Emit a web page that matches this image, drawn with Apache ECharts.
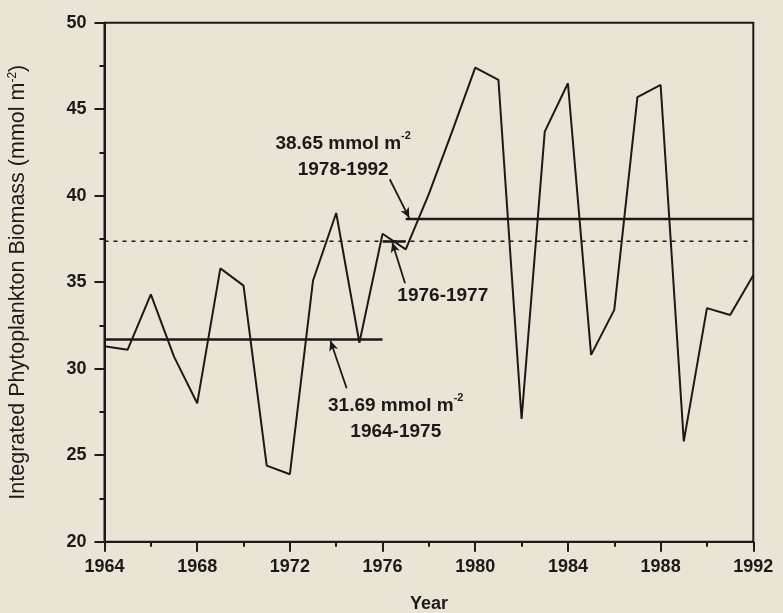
<!DOCTYPE html>
<html>
<head>
<meta charset="utf-8">
<script src="https://cdn.jsdelivr.net/npm/echarts@6/dist/echarts.min.js"></script>
<style>
  html, body { margin: 0; padding: 0; background: #e9e4d5; }
  #chart { width: 783px; height: 613px; }
</style>
</head>
<body>
<div id="chart"></div>
<script>
// Annual integrated phytoplankton biomass, 1964-1992
const years = [1964, 1965, 1966, 1967, 1968, 1969, 1970, 1971, 1972, 1973,
  1974, 1975, 1976, 1977, 1978, 1979, 1980, 1981, 1982, 1983,
  1984, 1985, 1986, 1987, 1988, 1989, 1990, 1991, 1992];
const biomass = [31.3, 31.1, 34.3, 30.7, 28.0, 35.8, 34.8, 24.4, 23.9, 35.1,
  39.0, 31.5, 37.8, 36.9, 40.1, 43.7, 47.4, 46.7, 27.1, 43.7,
  46.5, 30.8, 33.4, 45.7, 46.4, 25.8, 33.5, 33.1, 35.4];

// Period means: [start year, end year, mean]
const meanEarly = [1964, 1976, 31.69];
const meanTransition = [1976, 1977, 37.35];
const meanLate = [1977, 1992, 38.65];
const meanAll = [1964, 1992, 37.36];

// Annotation anchors [x, y] and their arrows [[x0, y0], [x1, y1]]
const noteLate = { at: [1974.3, 42.27], text: ['38.65 mmol m', '1978-1992'] };
const noteMid = { at: [1978.6, 34.19], text: ['1976-1977'] };
const noteEarly = { at: [1976.57, 27.11], text: ['31.69 mmol m', '1964-1975'] };
const arrowLate = [[1976.31, 40.95], [1977.15, 38.72]];
const arrowMid = [[1976.97, 34.94], [1976.42, 37.3]];
const arrowEarly = [[1974.45, 28.87], [1973.75, 31.62]];

const ink = '#1a1a1a';
const font = '"Liberation Sans", Arial, sans-serif';

function segment(m) { return [[m[0], m[2]], [m[1], m[2]]]; }

const richNote = {
  a: { fontFamily: font, fontSize: 19, fontWeight: 'bold', color: ink, lineHeight: 26, textBorderWidth: 0 },
  s: { fontFamily: font, fontSize: 11, fontWeight: 'bold', color: ink, verticalAlign: 'top', lineHeight: 26, textBorderWidth: 0 }
};

function noteLabel(note) {
  const lines = note.text.map((t, i) => (i === 0 && note.text.length > 1) ? '{a|' + t + '}{s|-2}' : '{a|' + t + '}');
  return {
    type: 'scatter',
    data: [note.at],
    symbolSize: 0,
    silent: true,
    z: 5,
    itemStyle: { color: ink, opacity: 1 },
    emphasis: { disabled: true },
    label: {
      show: true,
      position: 'inside',
      color: ink,
      opacity: 1,
      textBorderWidth: 0,
      formatter: lines.join('\n'),
      rich: richNote
    }
  };
}

function arrowSeries(a) {
  return {
    type: 'line',
    data: [],
    silent: true,
    markLine: {
      silent: true,
      symbol: ['none', 'arrow'],
      symbolSize: [7, 10],
      label: { show: false },
      lineStyle: { color: ink, width: 1.8, type: 'solid' },
      data: [[{ coord: a[0] }, { coord: a[1] }]]
    }
  };
}

function meanSeries(m, width, dashed) {
  return {
    type: 'line',
    data: segment(m),
    symbol: 'none',
    silent: true,
    z: 3,
    lineStyle: { color: ink, width: width, type: dashed ? [4, 5] : 'solid' }
  };
}

const chart = echarts.init(document.getElementById('chart'), null, { renderer: 'canvas' });
chart.setOption({
  backgroundColor: '#e9e4d5',
  animation: false,
  grid: {
    left: 104.5, right: 29.7, top: 22.7, bottom: 71.3,
    outerBoundsMode: 'none',
    containLabel: false,
    show: true, borderColor: ink, borderWidth: 2, backgroundColor: 'transparent'
  },
  xAxis: {
    type: 'value',
    min: 1964, max: 1992, interval: 4,
    name: 'Year',
    nameLocation: 'middle',
    nameGap: 53,
    nameTextStyle: { fontFamily: font, fontSize: 18, fontWeight: 'bold', color: ink },
    axisLine: { show: true, onZero: false, lineStyle: { color: ink, width: 2 } },
    axisTick: { show: true, inside: false, length: 10, lineStyle: { color: ink, width: 2 } },
    minorTick: { show: true, splitNumber: 2, length: 5, lineStyle: { color: ink, width: 2 } },
    splitLine: { show: false },
    axisLabel: {
      fontFamily: font, fontSize: 18, fontWeight: 'bold', color: ink, margin: 16,
      formatter: v => String(v)
    }
  },
  yAxis: {
    type: 'value',
    min: 20, max: 50, interval: 5,
    name: 'Integrated Phytoplankton Biomass (mmol m{s|-2})',
    nameLocation: 'middle',
    nameRotate: 90,
    nameGap: 74,
    nameTextStyle: {
      fontFamily: font, fontSize: 21.5, color: ink, fontWeight: 'normal',
      rich: { s: { fontFamily: font, fontSize: 12, color: ink, verticalAlign: 'top', lineHeight: 24 } }
    },
    axisLine: { show: true, lineStyle: { color: ink, width: 2 } },
    axisTick: { show: true, inside: false, length: 10, lineStyle: { color: ink, width: 2 } },
    minorTick: { show: true, splitNumber: 2, length: 5, lineStyle: { color: ink, width: 2 } },
    splitLine: { show: false },
    axisLabel: { fontFamily: font, fontSize: 18, fontWeight: 'bold', color: ink, margin: 18 }
  },
  series: [
    meanSeries(meanAll, 1.5, true),
    meanSeries(meanEarly, 2.5, false),
    meanSeries(meanTransition, 2.5, false),
    meanSeries(meanLate, 2.5, false),
    {
      type: 'line',
      data: years.map((y, i) => [y, biomass[i]]),
      symbol: 'none',
      z: 4,
      lineStyle: { color: ink, width: 2 }
    },
    arrowSeries(arrowLate),
    arrowSeries(arrowMid),
    arrowSeries(arrowEarly),
    noteLabel(noteLate),
    noteLabel(noteMid),
    noteLabel(noteEarly)
  ]
});
</script>
</body>
</html>
